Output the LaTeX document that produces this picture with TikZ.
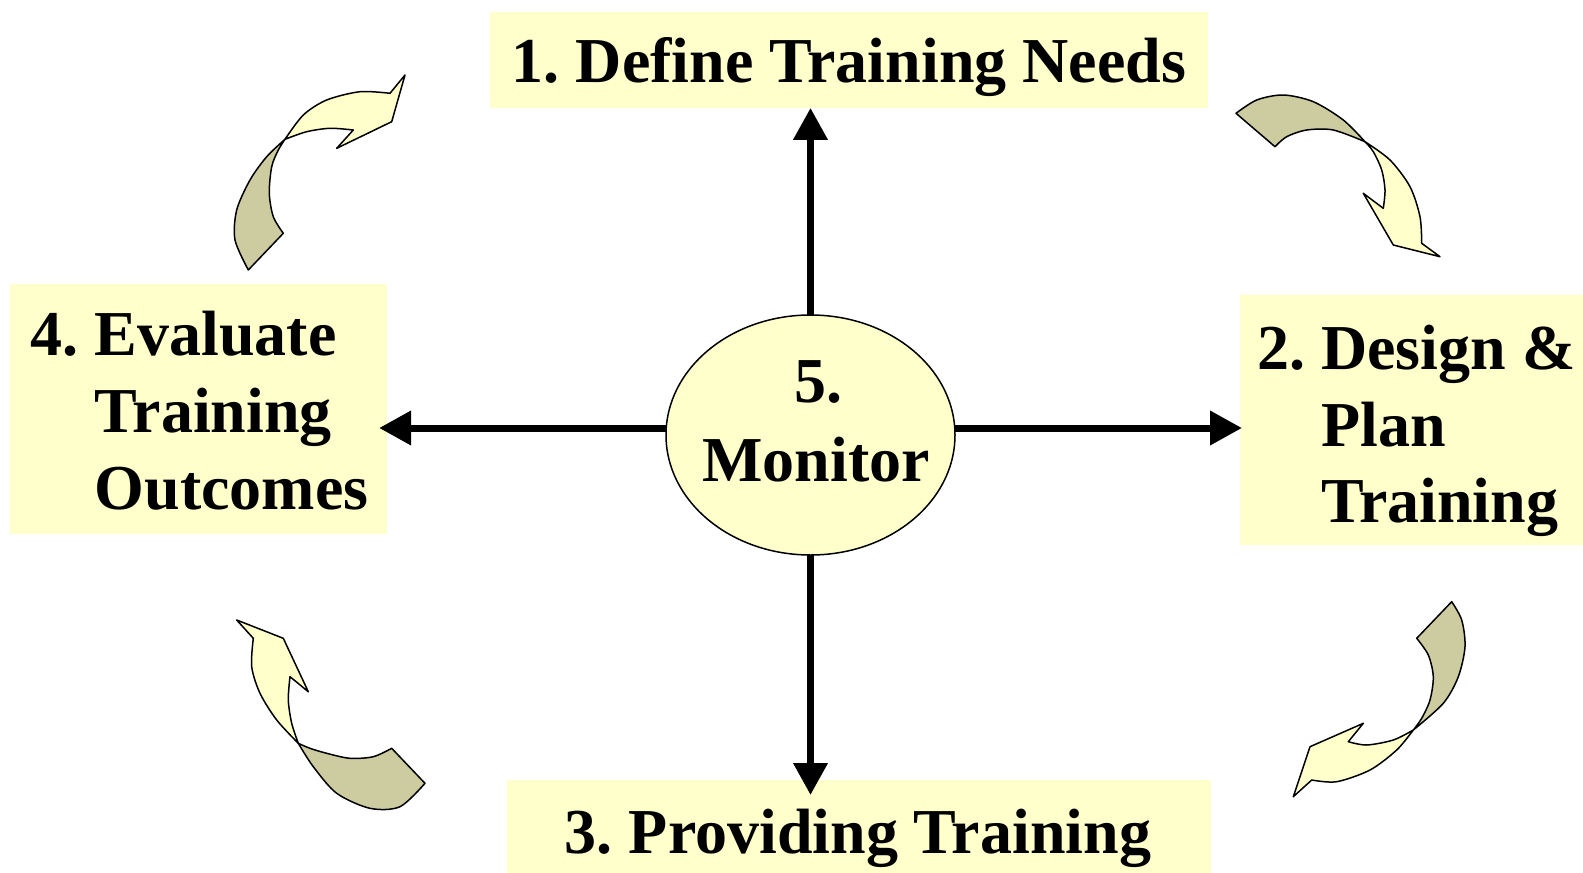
\documentclass[tikz,border=0pt]{standalone}
\usepackage{fontspec}
\setmainfont{Liberation Serif}
\usetikzlibrary{arrows.meta,shapes.geometric}
\frenchspacing

\definecolor{boxfill}{HTML}{FFFFCC}
\definecolor{backface}{RGB}{204,204,160}

\begin{document}
\begin{tikzpicture}[x=1pt,y=-1pt,
  stagebox/.style={fill=boxfill, draw=none, inner sep=0pt, anchor=north west},
  stagetext/.style={font=\fontsize{64}{77}\selectfont\bfseries, inner sep=0pt},
  link/.style={line width=7pt, -{Triangle[length=32pt,width=33pt]}},
  front/.style={fill=boxfill, draw=black, line width=1.5pt, line join=round},
  back/.style={fill=backface, draw=black, line width=1.5pt, line join=round}]

\useasboundingbox (0,0) rectangle (1583,873);

% stage boxes
\node[stagebox, minimum width=717.5pt, minimum height=95.5pt] (b1) at (490,12) {};
\node[stagebox, minimum width=343pt, minimum height=250pt] (b2) at (1240,295) {};
\node[stagebox, minimum width=703.5pt, minimum height=93pt] (b3) at (507,780) {};
\node[stagebox, minimum width=376.7pt, minimum height=250pt] (b4) at (10,283.3) {};

% connectors from the monitor ellipse
\coordinate (c) at (810.5,435);
\coordinate (h) at (810.5,428);
\draw[link] (c |- 0,315) -- (c |- b1.south);
\draw[link, shorten >=-15pt] (c |- 0,555) -- (c |- b3.north);
\draw[link, shorten >=-8pt] (h -| 668,0) -- (h -| b4.east);
\draw[link, shorten >=-2pt] (h -| 953,0) -- (h -| b2.west);

% central ellipse
\node[ellipse, fill=boxfill, draw=black, line width=1.5pt, inner sep=0pt,
      minimum width=289pt, minimum height=240pt] (mon) at (c) {};

% texts
\node[stagetext, anchor=base] (t1) at (849,82) {1. Define Training Needs};
\node[stagetext, anchor=base west] (t2a) at (1257,369.5) {2. Design \&};
\node[stagetext, anchor=base west] (t2b) at (1321,446) {Plan};
\node[stagetext, anchor=base west] (t2c) at (1321,522.5) {Training};
\node[stagetext, anchor=base] (t3) at (858,853) {3. Providing Training};
\node[stagetext, anchor=base west] (t4a) at (30.5,355) {4. Evaluate};
\node[stagetext, anchor=base west] (t4b) at (94.5,432) {Training};
\node[stagetext, anchor=base west] (t4c) at (94.5,509) {Outcomes};
\node[stagetext, anchor=base] (t5a) at (818,402) {5.};
\node[stagetext, anchor=base] (t5b) at (816,481) {Monitor};

% twisted curved arrows: top left
\draw[back] (248.3,270) -- (283.3,233.3)
  -- plot[smooth] coordinates {(283.3,233.3) (273.3,216.7) (269.3,193.3) (271.7,166.7) (278.3,150) (285,139.3)}
  -- plot[smooth] coordinates {(285,139.3) (266.7,156.7) (250,180) (236.7,210) (235,240) (248.3,270)}
  -- cycle;
\draw[front] (285,139.3)
  -- plot[smooth] coordinates {(285,139.3) (303.3,115) (326.7,100) (360,91.7) (390,93.3)}
  -- (405,75) -- (391.7,121.7) -- (336.7,148.3) -- (353.3,130)
  -- plot[smooth] coordinates {(353.3,130) (330,128.3) (306.7,131.7) (285,139.3)}
  -- cycle;

% top right
\draw[back] (1236,113.3) -- (1275,146.7)
  -- plot[smooth] coordinates {(1275,146.7) (1286.7,136.7) (1306.7,130) (1333.3,130) (1365,141.7)}
  -- plot[smooth] coordinates {(1365,141.7) (1343.3,120) (1313.3,101.7) (1283.3,95) (1256.7,100) (1236,113.3)}
  -- cycle;
\draw[front] (1365,141.7)
  -- plot[smooth] coordinates {(1365,141.7) (1390,160) (1410,186.7) (1420,216.7) (1421.7,243.3)}
  -- (1440,256.7) -- (1393.3,245) -- (1363.3,193.3) -- (1383.3,208.3)
  -- plot[smooth] coordinates {(1383.3,208.3) (1385,190) (1381.7,170) (1373.3,151.7) (1365,141.7)}
  -- cycle;

% bottom right
\draw[back] (1451.7,601.7) -- (1416.7,638.3)
  -- plot[smooth] coordinates {(1416.7,638.3) (1428.3,655) (1433.3,676.7) (1430,700) (1421.7,718.3) (1413.3,730)}
  -- plot[smooth] coordinates {(1413.3,730) (1443.3,703.3) (1458.3,676.7) (1465,646.7) (1461.7,620) (1451.7,601.7)}
  -- cycle;
\draw[front] (1413.3,730)
  -- plot[smooth] coordinates {(1413.3,730) (1396.7,750) (1370,770) (1336.7,781.7) (1311.7,780)}
  -- (1293.3,796.7) -- (1310,746.7) -- (1363.3,723.3) -- (1348.3,741.7)
  -- plot[smooth] coordinates {(1348.3,741.7) (1366.7,745) (1393.3,740) (1413.3,730)}
  -- cycle;

% bottom left
\draw[back] (391.7,748.3) -- (425,783.3)
  -- plot[smooth] coordinates {(425,783.3) (400,806.7) (370,808.3) (336.7,793.3) (313.3,766.7) (298.3,743.3)}
  -- plot[smooth] coordinates {(298.3,743.3) (310,748.3) (326.7,753.3) (350,758.3) (373.3,756.7) (391.7,748.3)}
  -- cycle;
\draw[front] (298.3,743.3)
  -- plot[smooth] coordinates {(298.3,743.3) (276.7,720) (260,693.3) (251.7,666.7) (253.3,638.3)}
  -- (236.7,620) -- (283.3,638.3) -- (308.3,691.7) -- (290,676.7)
  -- plot[smooth] coordinates {(290,676.7) (288.3,700) (291.7,723.3) (298.3,743.3)}
  -- cycle;
\end{tikzpicture}
\end{document}
